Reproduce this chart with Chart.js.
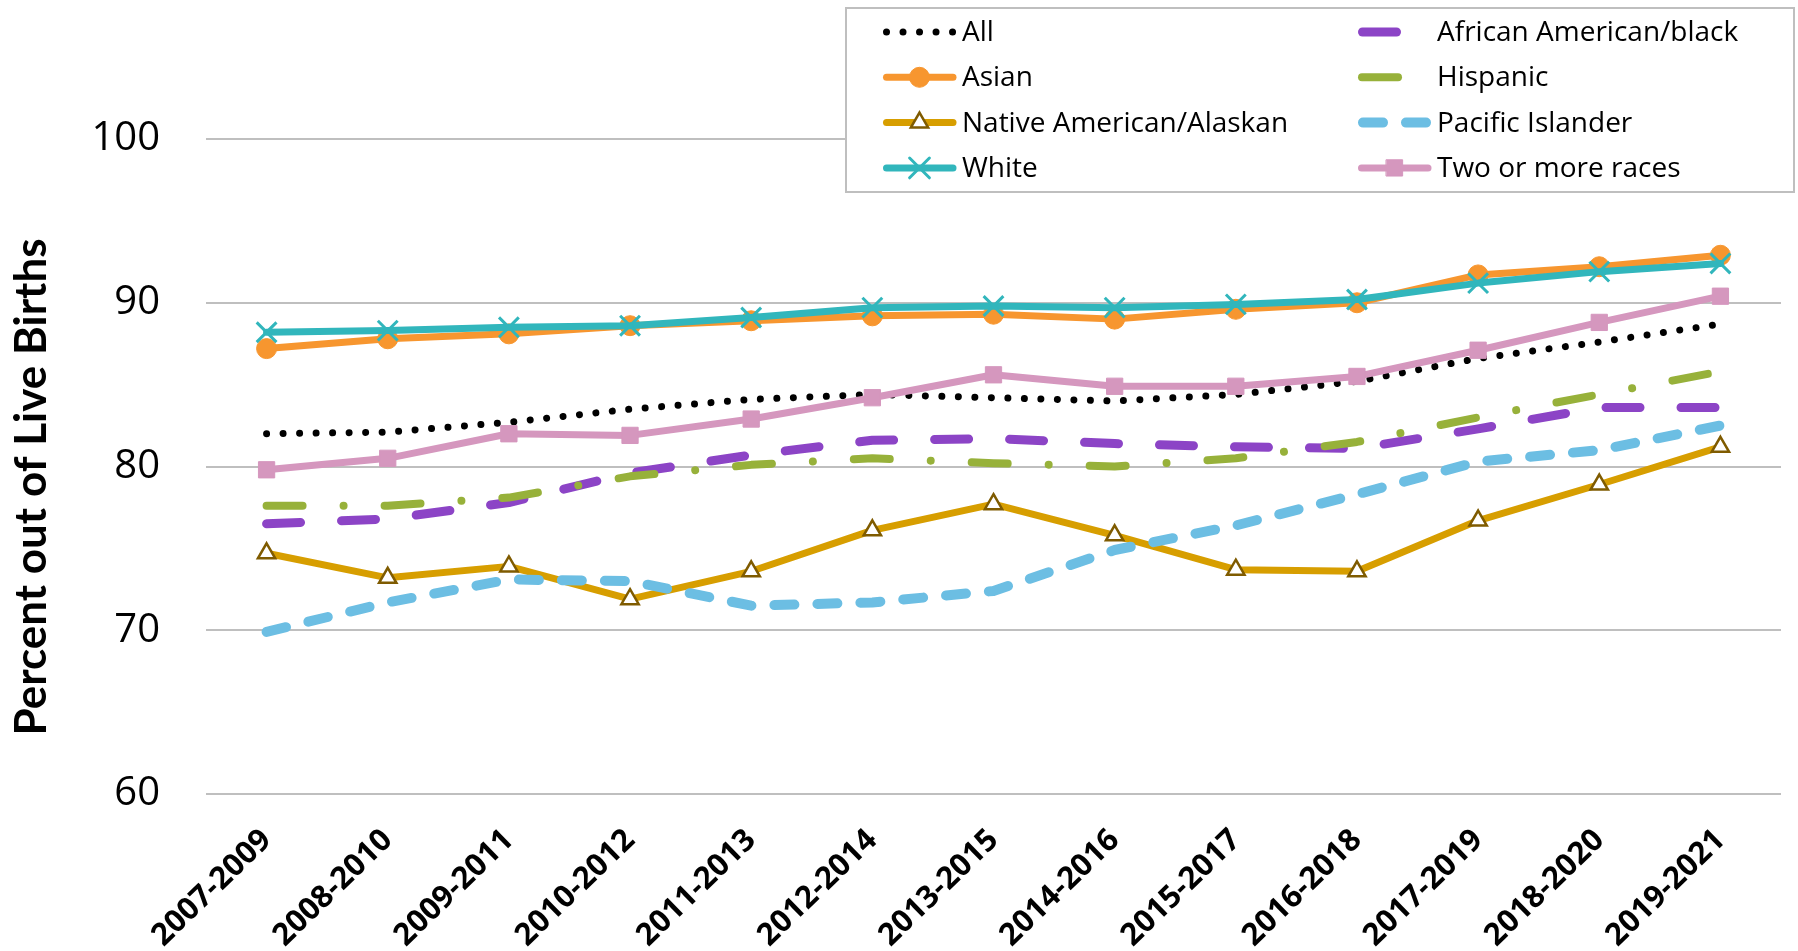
<!DOCTYPE html>
<html>
<head>
<meta charset="utf-8">
<title>Percent out of Live Births</title>
<script src="https://cdn.jsdelivr.net/npm/chart.js@4.4.1/dist/chart.umd.min.js"></script>
<style>
  html, body { margin: 0; padding: 0; background: #fff; }
  canvas { display: block; }
</style>
</head>
<body>
<canvas id="births" width="1798" height="951"></canvas>
<script>
const periods = ["2007-2009", "2008-2010", "2009-2011", "2010-2012", "2011-2013", "2012-2014", "2013-2015",
    "2014-2016", "2015-2017", "2016-2018", "2017-2019", "2018-2020", "2019-2021"];

const allRaces  = [82.0, 82.1, 82.7, 83.5, 84.1, 84.4, 84.2, 84.0, 84.4, 85.2, 86.6, 87.6, 88.7];
const asian     = [87.2, 87.8, 88.1, 88.6, 88.9, 89.2, 89.3, 89.0, 89.6, 90.0, 91.7, 92.2, 92.9];
const nativeAm  = [74.7, 73.2, 73.9, 71.9, 73.6, 76.1, 77.7, 75.8, 73.7, 73.6, 76.7, 78.9, 81.2];
const white     = [88.2, 88.3, 88.5, 88.6, 89.1, 89.7, 89.8, 89.7, 89.9, 90.2, 91.2, 91.9, 92.4];
const africanAm = [76.5, 76.8, 77.8, 79.6, 80.7, 81.6, 81.7, 81.4, 81.2, 81.1, 82.3, 83.6, 83.6];
const hispanic  = [77.6, 77.6, 78.1, 79.4, 80.1, 80.5, 80.2, 80.0, 80.5, 81.5, 83.0, 84.4, 85.8];
const pacific   = [69.9, 71.7, 73.1, 73.0, 71.5, 71.7, 72.4, 74.9, 76.4, 78.3, 80.3, 81.0, 82.5];
const multiRace = [79.8, 80.5, 82.0, 81.9, 82.9, 84.2, 85.6, 84.9, 84.9, 85.5, 87.1, 88.8, 90.4];

const yTicks = [60, 70, 80, 90, 100];
const yTitle = "Percent out of Live Births";

function series(label, data, color, width, extra) {
    return Object.assign({
        label: label,
        data: data,
        borderColor: color,
        backgroundColor: color,
        borderWidth: width,
        borderCapStyle: 'round',
        borderJoinStyle: 'round',
        fill: false,
        tension: 0,
        pointRadius: 0,
        pointHoverRadius: 0
    }, extra || {});
}

const datasets = [
    series("All", allRaces, "#000000", 7, {borderDash: [0.01, 16.5]}),
    series("Asian", asian, "#F7962F", 7, {pointStyle: 'circle', pointRadius: 10, pointBackgroundColor: "#F7962F", pointBorderColor: "#F7962F", pointBorderWidth: 1}),
    series("Native American/Alaskan", nativeAm, "#D79E00", 7, {pointStyle: 'triangle', pointRadius: 10, pointBackgroundColor: "#FFFFFF", pointBorderColor: "#7F5B00", pointBorderWidth: 2.5}),
    series("White", white, "#31B6BC", 7, {pointStyle: 'crossRot', pointRadius: 14, pointBorderColor: "#31B6BC", pointBorderWidth: 3}),
    series("African American/black", africanAm, "#8C44C6", 9, {borderDash: [34, 41]}),
    series("Hispanic", hispanic, "#97B13A", 8, {borderDash: [36, 41, 0.01, 41]}),
    series("Pacific Islander", pacific, "#6CBEE3", 10, {borderDash: [20, 23]}),
    series("Two or more races", multiRace, "#D597BE", 7, {pointStyle: 'rect', pointRadius: 11.5, pointBackgroundColor: "#D597BE", pointBorderColor: "#D597BE", pointBorderWidth: 1})
];
// later series sit on top, like the spreadsheet
datasets.forEach((ds, i) => { ds.order = datasets.length - i; });

// two column legend in a framed box, top right
const boxLegend = {
    id: 'boxLegend',
    afterDraw(chart) {
        const ctx = chart.ctx;
        ctx.save();
        ctx.fillStyle = "#FFFFFF";
        ctx.fillRect(846, 8, 948, 184);
        ctx.strokeStyle = "#BFBFBF";
        ctx.lineWidth = 2;
        ctx.setLineDash([]);
        ctx.strokeRect(846, 8, 948, 184);

        chart.data.datasets.forEach((ds, i) => {
            const col = Math.floor(i / 4), row = i % 4;
            const x0 = col ? 1358 : 883;
            const x1 = col ? 1431 : 956;
            const y = 32 + row * 45.3;
            const w = ds.borderWidth;

            ctx.strokeStyle = ds.borderColor;
            ctx.lineWidth = w;
            ctx.lineCap = 'round';
            ctx.setLineDash(ds.borderDash || []);
            ctx.beginPath();
            ctx.moveTo(x0 + w / 2, y);
            ctx.lineTo(x1 - w / 2 + 0.5, y);
            ctx.stroke();

            if (ds.pointRadius > 0 && Chart.helpers && Chart.helpers.drawPoint) {
                ctx.setLineDash([]);
                ctx.fillStyle = ds.pointBackgroundColor || ds.borderColor;
                ctx.strokeStyle = ds.pointBorderColor || ds.borderColor;
                ctx.lineWidth = ds.pointBorderWidth || 1;
                Chart.helpers.drawPoint(ctx, {
                    pointStyle: ds.pointStyle,
                    radius: ds.pointRadius,
                    rotation: 0,
                    borderWidth: ds.pointBorderWidth || 1
                }, (x0 + x1) / 2, y);
            }

            ctx.fillStyle = "#000000";
            ctx.font = '28px "Open Sans"';
            ctx.textBaseline = 'middle';
            ctx.textAlign = 'left';
            ctx.fillText(ds.label, col ? 1437 : 962, y + 1);
        });
        ctx.restore();
    }
};

// y axis title, centred a little below the plot middle as in the original
const sideTitle = {
    id: 'sideTitle',
    afterDraw(chart) {
        const ctx = chart.ctx;
        ctx.save();
        ctx.translate(32, 487);
        ctx.rotate(-Math.PI / 2);
        ctx.fillStyle = "#000000";
        ctx.font = 'bold 44px "Lato"';
        ctx.textAlign = 'center';
        ctx.textBaseline = 'middle';
        ctx.fillText(yTitle, 0, 0);
        ctx.restore();
    }
};

const ctx = document.getElementById("births");
const birthsChart = new Chart(ctx, {
    type: 'line',
    data: {
        labels: periods,
        datasets: datasets
    },
    plugins: [boxLegend, sideTitle],
    options: {
        responsive: false,
        animation: false,
        devicePixelRatio: 1,
        events: [],
        layout: {
            padding: {top: 139, right: 17, bottom: 0, left: 0}
        },
        plugins: {
            legend: {display: false},
            tooltip: {enabled: false}
        },
        scales: {
            x: {
                offset: true,
                grid: {display: false},
                border: {display: false},
                ticks: {
                    autoSkip: false,
                    minRotation: 44,
                    maxRotation: 44,
                    padding: 20,
                    color: "#000000",
                    font: {family: "Open Sans", size: 31, weight: 'bold'}
                },
                afterFit(scale) { scale.height = 157; }
            },
            y: {
                min: 60,
                max: 100,
                afterBuildTicks(scale) { scale.ticks = yTicks.map(v => ({value: v})); },
                grid: {color: "#BFBFBF", lineWidth: 2, drawTicks: false},
                border: {display: false},
                ticks: {
                    padding: 46,
                    color: "#000000",
                    font: {family: "Open Sans", size: 40}
                },
                afterFit(scale) { scale.width = 206; }
            }
        }
    }
});
</script>
</body>
</html>
